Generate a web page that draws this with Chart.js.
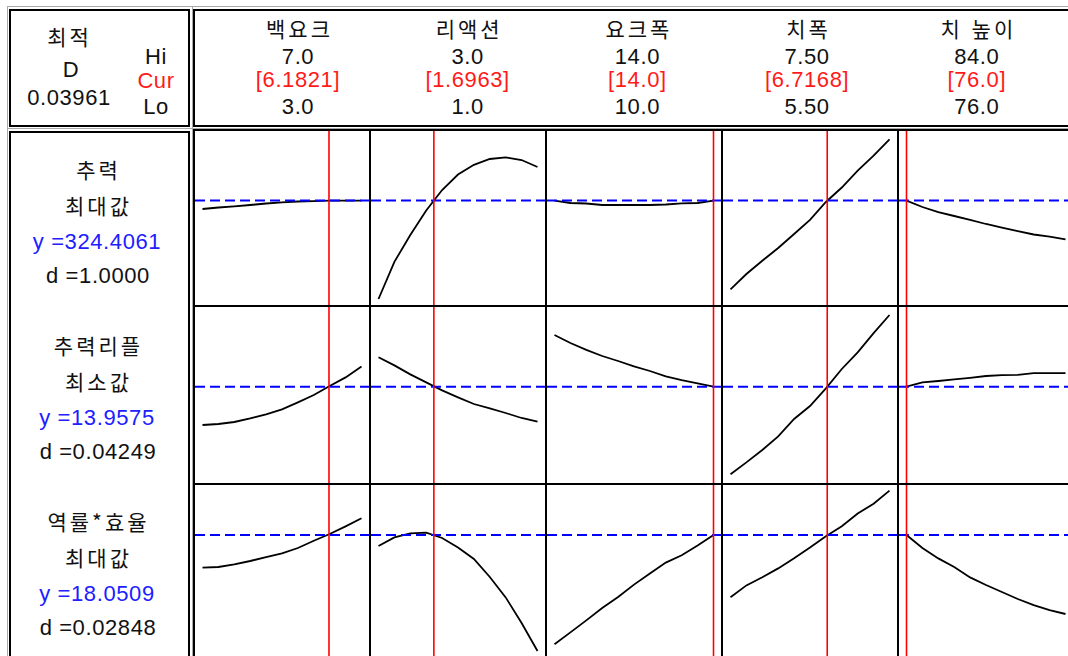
<!DOCTYPE html>
<html lang="ko">
<head>
<meta charset="utf-8">
<script src="https://cdn.jsdelivr.net/npm/chart.js@4.4.0/dist/chart.umd.min.js"></script>
<style>
html, body { margin:0; padding:0; background:#fff; overflow:hidden; }
#page { position:relative; width:1068px; height:656px; overflow:hidden;
  font-family:"Liberation Sans", "Noto Sans CJK KR", sans-serif; color:#111; }
.box { position:absolute; border:2px solid #000; box-sizing:border-box; }
.gray { position:absolute; background:#a8a8a8; }
.line { position:absolute; background:#000; }
.txt { position:absolute; width:240px; height:24px; line-height:24px; text-align:center;
  font-size:22px; white-space:nowrap; letter-spacing:0.6px; }
.ko { font-family:"Noto Sans CJK KR", sans-serif; font-size:21px; letter-spacing:3px; padding-left:3px; box-sizing:border-box; }
canvas { position:absolute; }
</style>
</head>
<body>
<div id="page"></div>
<script>
// factors (columns)
const factors = ['백요크', '리액션', '요크폭', '치폭', '치 높이'];
const hiLabels = ['7.0', '3.0', '14.0', '7.50', '84.0'];
const curLabels = ['6.1821', '1.6963', '14.0', '6.7168', '76.0'];
const loLabels = ['3.0', '1.0', '10.0', '5.50', '76.0'];
const loValues = [3, 1, 10, 5.5, 76];
const hiValues = [7, 3, 14, 7.5, 84];
const curValues = [6.1821, 1.6963, 14.0, 6.7168, 76.0];

// factor settings along each curve
const xBackYoke = [3.0, 3.4, 3.8, 4.2, 4.6, 5.0, 5.4, 5.8, 6.2, 6.6, 7.0];
const xReaction = [1.0, 1.2, 1.4, 1.6, 1.8, 2.0, 2.2, 2.4, 2.6, 2.8, 3.0];
const xYokeWidth = [10.0, 10.4, 10.8, 11.2, 11.6, 12.0, 12.4, 12.8, 13.2, 13.6, 14.0];
const xToothWidth = [5.5, 5.7, 5.9, 6.1, 6.3, 6.5, 6.7, 6.9, 7.1, 7.3, 7.5];
const xToothHeight = [76.0, 76.8, 77.6, 78.4, 79.2, 80.0, 80.8, 81.6, 82.4, 83.2, 84.0];
const xSettings = [xBackYoke, xReaction, xYokeWidth, xToothWidth, xToothHeight];

// responses (rows)
const responses = ['추력', '추력리플', '역률*효율'];
const goals = ['최대값', '최소값', '최대값'];
const yLabels = ['324.4061', '13.9575', '18.0509'];
const dLabels = ['1.0000', '0.04249', '0.02848'];
const yCurrent = [324.4061, 13.9575, 18.0509];
const yLow = [220, 9.14, 11.75];
const yHigh = [394, 17.94, 20.55];

// predicted responses, one list per factor
const thrust = [
  [316.0, 317.5, 318.7, 320.0, 321.5, 322.7, 323.5, 323.9, 324.3, 324.4, 324.4],
  [226.0, 263.2, 290.0, 314.5, 335.0, 350.5, 360.2, 366.0, 367.7, 365.0, 358.0],
  [324.3, 322.0, 321.5, 320.0, 320.0, 320.0, 320.0, 320.5, 321.7, 322.0, 324.4],
  [235.7, 251.0, 264.3, 277.0, 291.0, 305.2, 323.0, 337.5, 354.3, 369.3, 385.7],
  [324.4, 318.0, 312.8, 309.0, 305.2, 301.0, 297.4, 293.8, 290.5, 288.4, 285.7]
];
const ripple = [
  [12.04, 12.09, 12.19, 12.37, 12.57, 12.82, 13.17, 13.54, 13.99, 14.42, 14.96],
  [15.43, 15.02, 14.57, 14.17, 13.77, 13.42, 13.09, 12.87, 12.64, 12.39, 12.21],
  [16.54, 16.14, 15.80, 15.49, 15.24, 14.97, 14.74, 14.47, 14.28, 14.12, 13.96],
  [9.58, 10.17, 10.79, 11.47, 12.34, 12.99, 13.87, 14.84, 15.67, 16.63, 17.54],
  [13.96, 14.17, 14.24, 14.32, 14.40, 14.49, 14.53, 14.55, 14.63, 14.63, 14.63]
];
const pfEff = [
  [16.42, 16.45, 16.58, 16.75, 16.94, 17.13, 17.40, 17.76, 18.10, 18.48, 18.89],
  [17.50, 17.93, 18.13, 18.17, 17.90, 17.43, 16.85, 15.95, 14.93, 13.65, 12.25],
  [12.59, 13.18, 13.78, 14.40, 14.95, 15.57, 16.13, 16.67, 17.04, 17.52, 18.05],
  [14.94, 15.53, 15.94, 16.38, 16.89, 17.43, 17.99, 18.49, 19.12, 19.61, 20.27],
  [18.05, 17.40, 16.88, 16.45, 15.93, 15.55, 15.20, 14.85, 14.54, 14.29, 14.10]
];
const rowData = [thrust, ripple, pfEff];

const page = document.getElementById('page')

function el(cls, x, y, w, h) {
  const d = document.createElement('div')
  d.className = cls
  d.style.left = x + 'px'; d.style.top = y + 'px'
  d.style.width = w + 'px'; d.style.height = h + 'px'
  page.appendChild(d)
  return d
}
function put(text, cx, cy, ko, color) {
  const d = document.createElement('div')
  d.className = ko ? 'txt ko' : 'txt'
  d.textContent = text
  d.style.left = (cx - 120) + 'px'
  d.style.top = (cy - (ko ? 13 : 12)) + 'px'
  if (color) d.style.color = color
  page.appendChild(d)
}

// frames
el('gray', 7, 6, 1070, 1)
el('gray', 7, 6, 1, 660)
el('gray', 192, 6, 1, 660)
el('gray', 7, 128, 1070, 1)
el('box', 9, 9, 181, 118)
el('box', 193, 9, 900, 118)
el('box', 9, 131, 181, 600)

const X = [193, 369, 545, 721, 897, 1073]
const Y = [129, 305, 483, 661]
const RED = '#ff1a1a', BLUE = '#2020ff'

// header
put('최적', 68, 37, true)
put('D', 71, 70)
put('0.03961', 69, 98)
put('Hi', 156, 57)
put('Cur', 156, 81, false, RED)
put('Lo', 156, 107)
factors.forEach((f, i) => {
  const cx = 298 + 169.7 * i
  put(f, cx, 29, true)
  put(hiLabels[i], cx, 57)
  put('[' + curLabels[i] + ']', cx, 80, false, RED)
  put(loLabels[i], cx, 107)
})

// row labels
const rowTop = [170, 346, 522]
responses.forEach((r, j) => {
  const t = rowTop[j]
  put(r, 97, t, true)
  put(goals[j], 97, t + 36, true)
  put('y =' + yLabels[j], 97, t + 72, false, BLUE)
  put('d =' + dLabels[j], 98, t + 106)
})

// cells
for (let j = 0; j < 3; j++) {
  for (let i = 0; i < 5; i++) {
    const w = X[i + 1] - X[i] - 2, h = Y[j + 1] - Y[j] - 2
    const cv = document.createElement('canvas')
    cv.width = w; cv.height = h
    cv.style.left = (X[i] + 2) + 'px'; cv.style.top = (Y[j] + 2) + 'px'
    page.appendChild(cv)
    const pad = (hiValues[i] - loValues[i]) * 7.5 / (w - 15)
    const xmin = loValues[i] - pad, xmax = hiValues[i] + pad
    const curve = xSettings[i].map((x, k) => ({ x: x, y: rowData[j][i][k] }))
    new Chart(cv, {
      type: 'line',
      data: {
        datasets: [
          { data: [{ x: curValues[i], y: yLow[j] }, { x: curValues[i], y: yHigh[j] }],
            borderColor: '#ff0000', borderWidth: 1.6, pointRadius: 0 },
          { data: [{ x: xmin, y: yCurrent[j] }, { x: xmax, y: yCurrent[j] }],
            borderColor: '#0000ff', borderWidth: 2, borderDash: [10, 5], pointRadius: 0 },
          { data: curve, borderColor: '#000', borderWidth: 1.8, pointRadius: 0, tension: 0 }
        ]
      },
      options: {
        responsive: false, animation: false, events: [],
        layout: { padding: 0 },
        plugins: { legend: { display: false }, tooltip: { enabled: false } },
        scales: {
          x: { type: 'linear', display: false, min: xmin, max: xmax },
          y: { display: false, min: yLow[j], max: yHigh[j] }
        }
      }
    })
  }
}

// grid lines
for (let i = 0; i < 5; i++) el('line', X[i], Y[0], 2, 540)
for (let j = 0; j < 3; j++) el('line', X[0], Y[j], 880, 2)
</script>
</body>
</html>
